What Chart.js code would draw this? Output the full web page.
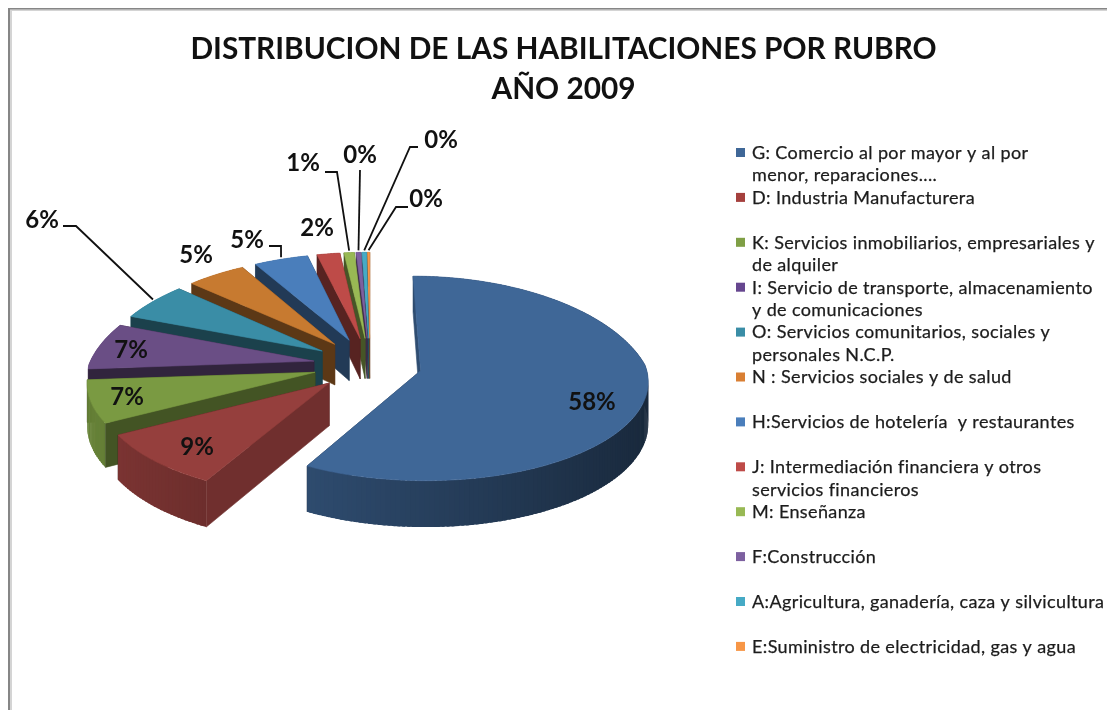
<!DOCTYPE html>
<html><head><meta charset="utf-8">
<style>html,body{margin:0;padding:0;background:#fff;width:1107px;height:710px;overflow:hidden}
#wrap{position:absolute;left:0;top:0;width:1107px;height:710px}
canvas{filter:blur(0.55px)}</style>
<script src="https://cdn.jsdelivr.net/npm/chart.js@4/dist/chart.umd.min.js"></script>
</head><body><div id="wrap"><canvas id="c" width="1107" height="710"></canvas></div>
<script>
const titleLines = ['DISTRIBUCION DE LAS HABILITACIONES POR RUBRO', 'AÑO 2009'];
const categories = [
 ['G: Comercio al por mayor y al por','menor, reparaciones....'],
 ['D: Industria Manufacturera'],
 ['K: Servicios inmobiliarios, empresariales y','de alquiler'],
 ['I: Servicio de transporte, almacenamiento','y de comunicaciones'],
 ['O: Servicios comunitarios, sociales y','personales N.C.P.'],
 ['N : Servicios sociales y de salud'],
 ['H:Servicios de hotelería  y restaurantes'],
 ['J: Intermediación financiera y otros','servicios financieros'],
 ['M: Enseñanza'],
 ['F:Construcción'],
 ['A:Agricultura, ganadería, caza y silvicultura'],
 ['E:Suministro de electricidad, gas y agua']
];
const values = [58.2, 9.0, 6.9, 6.9, 5.8, 5.0, 4.7, 2.0, 0.9, 0.4, 0.4, 0.2];
const valueLabels = ['58%','9%','7%','7%','6%','5%','5%','2%','1%','0%','0%','0%'];
const sliceColors = ['#3f6797','#953f3d','#7a9a42','#6a4e85','#3a8da6','#c77a30','#4a7ebb','#be4b48','#98b954','#7d60a0','#46aac5','#f79646'];
const legendColors = ['#3f6797','#a5403d','#7f9f45','#66468f','#3a8da6','#d97f33','#4a7ebb','#be4b48','#98b954','#7d60a0','#46aac5','#f79646'];
const sliceOffsets = [52,57,57,57,57,57,57,57,57,57,57,57];
const labelPos = [[592,402],[197,447],[127,397],[131,350],[42,220],[196,255],[247,240],[317,228],[303,163],[360,155],[441,140],[426,199]];
const leaderFrom = [null,null,null,null,[63,226,76,226],null,[269,246,281,246],null,[325,172,337,172],[360,170,360,170],[418,147,410,147],[408,207,396,207]];

const VIEW = {cx:370, cy:365, pBack:0.18, pFront:0.09, kBack:0.49, kFront:0.44, depth:42};
function hexRgb(h){return [1,3,5].map(i=>parseInt(h.substr(i,2),16));}
function shade(h,f){const c=hexRgb(h);return `rgb(${c.map(v=>Math.round(v*f)).join(',')})`;}
function pieGeom(arc){
  const R=arc.outerRadius, off=(arc.options.offset||0)/R, mid=(arc.startAngle+arc.endAngle)/2;
  const ax=off*Math.cos(mid), ay=off*Math.sin(mid);
  const pr=(rr,a,h)=>{
    const u=ax+rr*Math.cos(a), v=-(ay+rr*Math.sin(a));
    const s=1/(1+(v>0?VIEW.pBack:VIEW.pFront)*v);
    return [VIEW.cx+R*u*s, VIEW.cy-R*(v>0?VIEW.kBack:VIEW.kFront)*v*s+h*VIEW.depth*s];
  };
  return {pr,a1:arc.startAngle,a2:arc.endAngle};
}
function fillPoly(ctx,pts,col,edge){
  ctx.beginPath();pts.forEach((p,i)=>i?ctx.lineTo(p[0],p[1]):ctx.moveTo(p[0],p[1]));ctx.closePath();
  ctx.fillStyle=col;ctx.fill();
  if(edge){ctx.strokeStyle=col;ctx.lineWidth=0.6;ctx.stroke();}
}
const pie3d={
  id:'pie3d',
  beforeDatasetDraw(chart,args){
    const ctx=chart.ctx, arcs=chart.getDatasetMeta(0).data;
    const order=arcs.map((_,i)=>i).slice(1).reverse().concat([0]);
    ctx.save();
    order.forEach(i=>{
      const g=pieGeom(arcs[i]),col=sliceColors[i],{pr,a1,a2}=g;
      const deg=a1*180/Math.PI;
      const wf=d=>0.46+0.29*Math.min(1,Math.max(0,(165-d)/46));
      fillPoly(ctx,[pr(0,a2,0),pr(1,a2,0),pr(1,a2,1),pr(0,a2,1)],shade(col,0.46),true);
      const n=Math.max(2,Math.ceil((a2-a1)/0.02));
      const st=(a2-a1)/n;
      for(let j=0;j<n;j++){
        const b1=a1+st*j,b2=b1+st*(j<n-1?1.6:1);
        fillPoly(ctx,[pr(1,b1,0),pr(1,b2,0),pr(1,b2,1),pr(1,b1,1)],shade(col,0.62-0.23*Math.cos(b1+st/2)));
      }
      fillPoly(ctx,[pr(0,a1,0),pr(1,a1,0),pr(1,a1,1),pr(0,a1,1)],shade(col,wf(deg)),true);
      const top=[pr(0,a1,0)];
      for(let j=0;j<=n;j++)top.push(pr(1,a1+st*j,0));
      fillPoly(ctx,top,col,true);
    });
    ctx.restore();
    return false;
  },
  afterDatasetsDraw(chart){
    const ctx=chart.ctx, arcs=chart.getDatasetMeta(0).data;
    ctx.save();
    ctx.strokeStyle='#111';ctx.lineWidth=1.8;
    leaderFrom.forEach((l,i)=>{
      if(!l)return;
      const g=pieGeom(arcs[i]),m=(g.a1+g.a2)/2,e=g.pr(1,m,0);
      ctx.beginPath();ctx.moveTo(l[0],l[1]);ctx.lineTo(l[2],l[3]);ctx.lineTo(e[0],e[1]-2);ctx.stroke();
    });
    ctx.fillStyle='#111';ctx.textAlign='center';ctx.textBaseline='middle';
    ctx.font='bold 24px Lato';
    valueLabels.forEach((t,i)=>ctx.fillText(t,labelPos[i][0],labelPos[i][1]));
    ctx.textAlign='left';ctx.textBaseline='middle';
    ctx.font='18px Lato';
    ctx.letterSpacing='0.37px';
    ctx.lineWidth=0.25;ctx.strokeStyle='#1c1c1c';
    categories.forEach((lines,i)=>{
      const y=153+44.9*i;
      ctx.fillStyle=legendColors[i];
      ctx.fillRect(736,y-5,9,9);
      ctx.fillStyle='#1c1c1c';
      lines.forEach((t,j)=>{ctx.fillText(t,752,y+22.5*j);ctx.strokeText(t,752,y+22.5*j);});
    });
    ctx.letterSpacing='0px';
    ctx.restore();
  },
  beforeDraw(chart){
    const ctx=chart.ctx;
    ctx.save();
    ctx.fillStyle='#fff';ctx.fillRect(0,0,1107,710);
    ctx.fillStyle='#d4d4d4';ctx.fillRect(9,9,1098,2);ctx.fillRect(10,9,2,701);
    ctx.fillStyle='#868686';ctx.fillRect(8,8,1099,1.4);ctx.fillRect(8,8,2,702);
    ctx.restore();
  }
};
new Chart(document.getElementById('c'),{
  type:'pie',
  data:{labels:categories.map(c=>c.join(' ')),datasets:[{data:values,backgroundColor:sliceColors,offset:sliceOffsets,borderWidth:0}]},
  plugins:[pie3d],
  options:{
    responsive:false,animation:false,radius:225,
    layout:{padding:{left:20,right:0,top:30,bottom:0}},
    plugins:{
      legend:{display:false},tooltip:{enabled:false},
      title:{display:true,text:titleLines,color:'#111',font:{family:'Lato',size:29.8,weight:'bold',lineHeight:1.33},padding:0}
    }
  }
});
</script></body></html>
